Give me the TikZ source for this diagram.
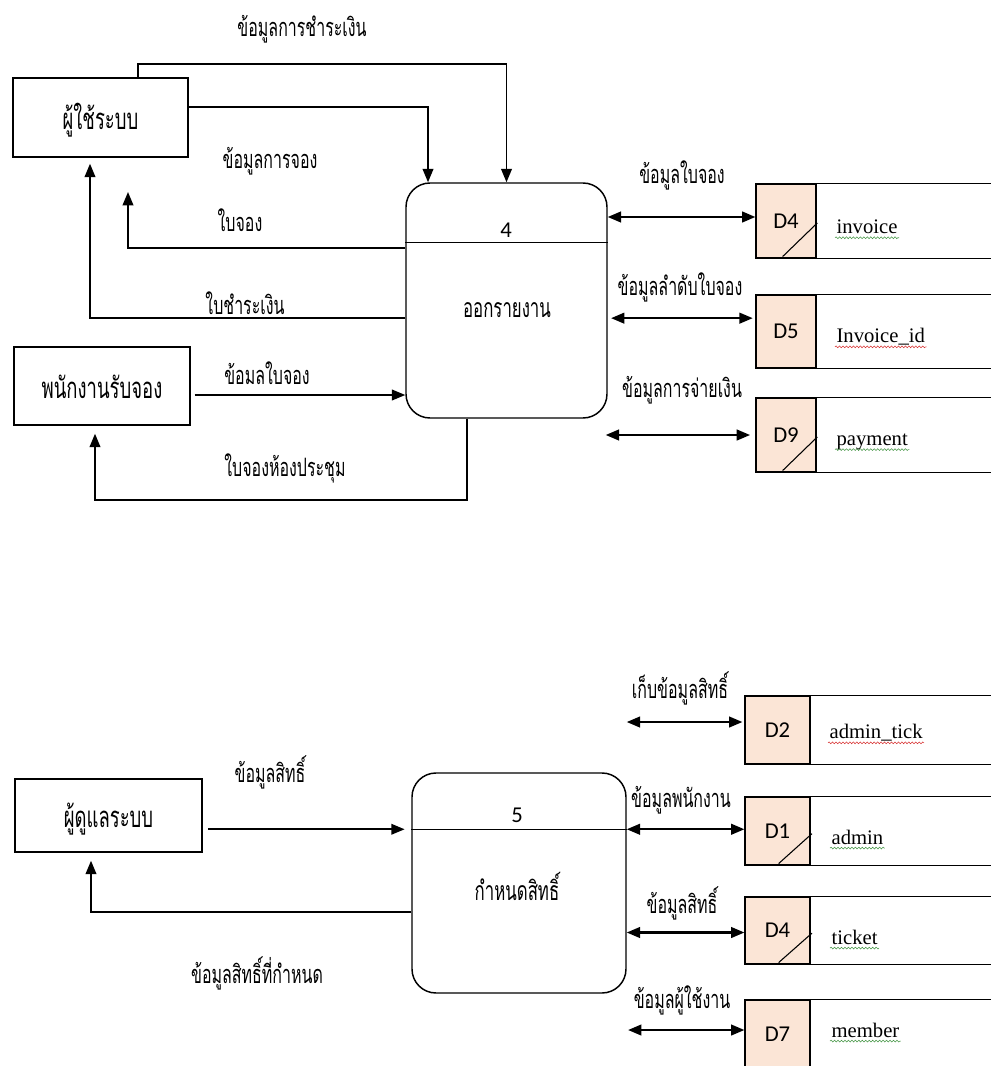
\documentclass[tikz,border=0pt]{standalone}
\usepackage{fontspec}
\setmainfont{Liberation Serif}
\newfontfamily\thaifont[Script=Thai,FakeStretch=0.63]{Loma}
\newfontfamily\idfont{Carlito}
\usetikzlibrary{positioning}
\usetikzlibrary{calc}
\usetikzlibrary{arrows.meta}
\usetikzlibrary{decorations.pathmorphing}
\usetikzlibrary{scopes}
\definecolor{peach}{RGB}{251,229,214}
\definecolor{wavygreen}{RGB}{70,150,70}
\definecolor{wavyred}{RGB}{215,50,50}

\tikzset{
    ext/.style={draw,line width=1.1pt,inner sep=0pt,text height=22pt,text depth=4pt,font=\thaifont\fontsize{22}{24}\selectfont},
    proc/.style={draw,line width=1.1pt,rounded corners=18pt,inner sep=0pt},
    num/.style={font=\idfont\fontsize{17}{19}\selectfont,inner sep=1pt},
    ptitle/.style={font=\thaifont\fontsize{20}{22}\selectfont,inner sep=1pt},
    lbl/.style={font=\thaifont\fontsize{19}{21}\selectfont,inner sep=1pt},
    flow/.style={line width=1.2pt,-{Triangle[length=10pt,width=8pt]}},
    dflow/.style={line width=1.6pt,{Triangle[length=10pt,width=8pt]}-{Triangle[length=10pt,width=8pt]}},
    storeid/.style={draw,fill=peach,line width=0.9pt,inner sep=0pt,font=\idfont\fontsize{17}{19}\selectfont},
    storename/.style={anchor=west,inner sep=1pt,font=\fontsize{15.5}{17}\selectfont},
    wavy/.style={draw=#1,line width=0.4pt,decorate,decoration={snake,amplitude=0.7pt,segment length=2.6pt}}
}

\begin{document}
\begin{tikzpicture}[x=0.75pt,y=-0.75pt]
    \useasboundingbox (0,0) rectangle (990,1066);
    \coordinate (edge) at (992,0);
    { [] % process 4
        \node[ext, minimum width=131.25pt, minimum height=59.25pt] (user) at (100.5,117.5) {ผู้ใช้ระบบ};
        \node[ext, minimum width=132pt, minimum height=58.5pt] (staff) at (102,386) {พนักงานรับจอง};
        \node[proc, minimum width=150.75pt, minimum height=176.25pt] (p4) at (506.5,300.5) {};
        \coordinate (p4div) at ([yshift=-45pt]p4.north west);
        \draw[line width=1.1pt] (p4div) -- (p4div -| p4.east);
        \node[num] (p4id) at (506,230) {4};
        \node[ptitle] (p4name) at (507,310) {ออกรายงาน};

        \node[storeid, minimum width=45pt, minimum height=55.5pt] (d4) at (786,221) {D4};
        \node[storeid, minimum width=45pt, minimum height=54.75pt] (d5) at (786,331.5) {D5};
        \node[storeid, minimum width=45pt, minimum height=55.5pt] (d9) at (786,435) {D9};
        \foreach \s in {d4,d5,d9}
            \draw[line width=0.9pt] (\s.north east) -- (\s.north east -| edge)
                (\s.south east) -- (\s.south east -| edge);
        \foreach \s in {d4,d9}
            \draw[line width=0.8pt] ([xshift=-25.5pt,yshift=1.5pt]\s.south east) -- ([xshift=0.5pt,yshift=-1.5pt]\s.east);
        \node[storename] (n4) at (835,227) {invoice};
        \node[storename] (n5) at (835,337) {Invoice\_id};
        \node[storename] (n9) at (835,442) {payment};
        \draw[wavy=wavygreen] ([yshift=-3pt]n4.base west) -- ([yshift=-3pt]n4.base east);
        \draw[wavy=wavyred] ([yshift=-3pt]n5.base west) -- ([yshift=-3pt]n5.base east);
        \draw[wavy=wavygreen] ([yshift=-3pt]n9.base west) -- ([yshift=-3pt]n9.base east);

        \coordinate (payTop) at (138,64);
        \coordinate (bookIn) at (428,107);
        \coordinate (slipL) at (128,248);
        \coordinate (slipEnd) at (128,192);
        \coordinate (billL) at (90,318);
        \coordinate (staffIn) at (0,395);
        \coordinate (roomR) at (467,500);
        \coordinate (roomL) at (95,500);
        \draw[flow] (user.north -| payTop) -- (payTop) -| (p4.north);
        \draw[flow] (user.east |- bookIn) -| (p4.north -| bookIn);
        \draw[flow] (p4.west |- slipL) -- (slipL) -- (slipEnd);
        \draw[flow] (p4.west |- billL) -- (billL) -- ([yshift=-4.5pt]user.south -| billL);
        \draw[flow] ([xshift=3pt]staff.east |- staffIn) -- (p4.west |- staffIn);
        \draw[flow] (p4.south -| roomR) -- (roomR) -- (roomL) -- ([yshift=-6pt]staff.south -| roomL);
        \draw[dflow] ([yshift=3pt]p4.east |- d4.west) -- ([yshift=3pt]d4.west);
        \draw[dflow] ([xshift=2.5pt,yshift=10pt]p4.east |- d5.west) -- ([xshift=-2pt,yshift=10pt]d5.west);
        \draw[dflow] ([xshift=-1.5pt]p4.east |- d9.west) -- ([xshift=-4pt]d9.west);

        \node[lbl] (l1) at (302,29) {ข้อมูลการชำระเงิน};
        \node[lbl] (l2) at (270,161) {ข้อมูลการจอง};
        \node[lbl] (l3) at (240,220) {ใบจอง};
        \node[lbl] (l4) at (245,303) {ใบชำระเงิน};
        \node[lbl] (l5) at (267,373) {ข้อมลใบจอง};
        \node[lbl] (l6) at (285,468) {ใบจองห้องประชุม};
        \node[lbl] (l7) at (682,175) {ข้อมูลใบจอง};
        \node[lbl] (l8) at (680,287) {ข้อมูลลำดับใบจอง};
        \node[lbl] (l9) at (682,390) {ข้อมูลการจ่ายเงิน};
    }
    { [] % process 5
        \node[ext, minimum width=140.25pt, minimum height=54.75pt] (admin) at (108.5,815.5) {ผู้ดูแลระบบ};
        \node[proc, minimum width=160.5pt, minimum height=165pt] (p5) at (519,883) {};
        \coordinate (p5div) at ([yshift=-42.75pt]p5.north west);
        \draw[line width=1.1pt] (p5div) -- (p5div -| p5.east);
        \node[num] (p5id) at (517,815) {5};
        \node[ptitle] (p5name) at (517,886) {กำหนดสิทธิ์};

        \node[storeid, minimum width=48.75pt, minimum height=51pt] (d2) at (777.5,730) {D2};
        \node[storeid, minimum width=48.75pt, minimum height=51pt] (d1) at (777.5,831) {D1};
        \node[storeid, minimum width=48.75pt, minimum height=50.25pt] (d4b) at (777.5,930.5) {D4};
        \node[storeid, minimum width=48.75pt, minimum height=51pt] (d7) at (777.5,1034) {D7};
        \foreach \s in {d2,d1,d4b,d7}
            \draw[line width=0.9pt] (\s.north east) -- (\s.north east -| edge)
                (\s.south east) -- (\s.south east -| edge);
        \foreach \s in {d1,d4b}
            \draw[line width=0.8pt] ([xshift=-24pt,yshift=1.5pt]\s.south east) -- ([xshift=1pt,yshift=-2pt]\s.east);
        \node[storename] (n2) at (828,733) {admin\_tick};
        \node[storename] (n1) at (830,837) {admin};
        \node[storename] (n4b) at (830,937) {ticket};
        \node[storename] (n7) at (830,1030) {member};
        \draw[wavy=wavyred] ([yshift=-3pt]n2.base west) -- ([yshift=-3pt]n2.base east);
        \foreach \s in {n1,n4b,n7}
            \draw[wavy=wavygreen] ([yshift=-3pt]\s.base west) -- ([yshift=-3pt]\s.base east);

        \coordinate (rightsL) at (91,912);
        \draw[flow] ([xshift=4pt]admin.east |- p5div) -- ([xshift=-5pt]p5div);
        \draw[flow] (p5.west |- rightsL) -- (rightsL) -- ([yshift=-6pt]admin.south -| rightsL);
        \draw[dflow] ([yshift=6pt]p5.east |- d2.west) -- ([xshift=-1.5pt,yshift=6pt]d2.west);
        \draw[dflow] (p5.east |- p5div) -- (d1.west |- p5div);
        \draw[dflow] ([yshift=-1.5pt]p5.east |- d4b.west) -- ([yshift=-1.5pt]d4b.west);
        \draw[dflow] ([xshift=1pt,yshift=3pt]p5.east |- d7.west) -- ([yshift=3pt]d7.west);

        \node[lbl] (l10) at (680,688) {เก็บข้อมูลสิทธิ์};
        \node[lbl] (l11) at (270,772) {ข้อมูลสิทธิ์};
        \node[lbl] (l12) at (681,800) {ข้อมูลพนักงาน};
        \node[lbl] (l13) at (682,903) {ข้อมูลสิทธิ์};
        \node[lbl] (l14) at (682,1000) {ข้อมูลผู้ใช้งาน};
        \node[lbl] (l15) at (257,973) {ข้อมูลสิทธิ์ที่กำหนด};
    }
\end{tikzpicture}
\end{document}
